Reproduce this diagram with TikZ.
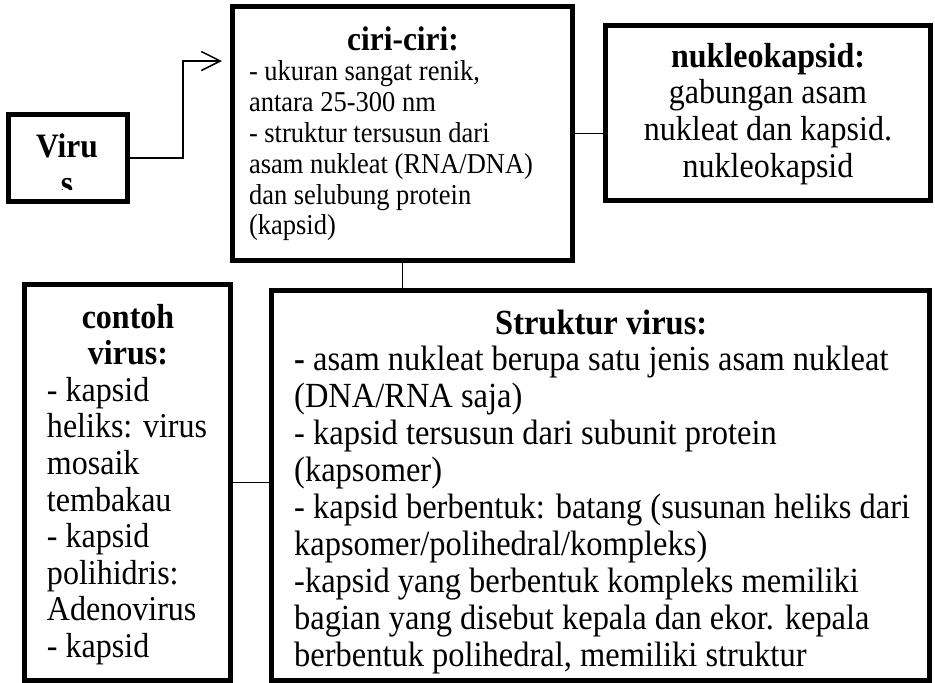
\documentclass[tikz,border=0pt]{standalone}
\usepackage{fontspec}
\setmainfont{Liberation Serif}[FakeStretch=0.92]
\usetikzlibrary{arrows.meta}
\begin{document}
\begin{tikzpicture}[x=1pt,y=-1pt,
  box/.style={draw, line width=5pt, rectangle, inner sep=0pt, fill=white},
  conn/.style={line width=1.5pt, draw=black},
  txt/.style={inner sep=0pt, anchor=base},
  txtw/.style={inner sep=0pt, anchor=base west}]
\fill[white] (0,0) rectangle (935,683);
\useasboundingbox (0,0) rectangle (935,683);

% boxes
\node[box, minimum width=119pt, minimum height=87pt] (virus) at (68,158) {};
\node[box, minimum width=340pt, minimum height=254pt] (ciri) at (402.5,133.5) {};
\node[box, minimum width=325pt, minimum height=175pt] (nukleo) at (768,113) {};
\node[box, minimum width=206pt, minimum height=396pt] (contoh) at (127.5,482.5) {};
\node[box, minimum width=658pt, minimum height=390pt] (struktur) at (600.5,485.5) {};

% texts
\begin{scope}
\clip (8,114) rectangle (128,189);
\node[txt] (virustext) at (67,157) {\begin{minipage}[t]{110pt}\centering\fontsize{34.2}{37}\selectfont\bfseries Viru\\ s\end{minipage}};
\end{scope}

\node[txt] (ciritext) at (403,50) {\begin{minipage}[t]{308pt}%
{\centering\fontsize{34.2}{36}\selectfont\bfseries ciri-ciri:\par}%
\raggedright\fontsize{28.8}{30.8}\selectfont
- ukuran sangat renik,\\
antara 25-300 nm\\
- struktur tersusun dari\\
asam nukleat (RNA/DNA)\\
dan selubung protein\\
(kapsid)\end{minipage}};

\node[txt] (nukleotext) at (768,67) {\begin{minipage}[t]{310pt}\centering\fontsize{34.8}{36.7}\selectfont
\textbf{nukleokapsid:}\\
gabungan asam\\
nukleat dan kapsid.\\
nukleokapsid\end{minipage}};

\node[txt] (contohtext) at (128,328) {\begin{minipage}[t]{162pt}\fontsize{34.8}{36.6}\selectfont
{\centering\bfseries contoh\\ virus:\par}%
\raggedright
- kapsid\\
heliks: virus\\
mosaik\\
tembakau\\
- kapsid\\
polihidris:\\
Adenovirus\\
- kapsid\end{minipage}};

\node[txtw] (strukturtext) at (294,334) {\begin{minipage}[t]{660pt}\fontsize{35.3}{36.9}\selectfont
\makebox[614pt]{\bfseries Struktur virus:}\par
\raggedright
\textbf{-} asam nukleat berupa satu jenis asam nukleat\\
(DNA/RNA saja)\\
- kapsid tersusun dari subunit protein\\
(kapsomer)\\
- kapsid berbentuk: batang (susunan heliks dari\\
kapsomer/polihedral/kompleks)\\
-kapsid yang berbentuk kompleks memiliki\\
bagian yang disebut kepala dan ekor. kepala\\
berbentuk polihedral, memiliki struktur\end{minipage}};

% connectors
\coordinate (tip) at (222,61);
\draw[conn, -{Straight Barb[length=19pt,width=19pt]}] (virus.east) -- ++(53,0) |- (tip);
\draw[conn] (ciri.east) -- (ciri.east -| nukleo.west);
\draw[conn] (ciri.south) -- (ciri.south |- struktur.north);
\draw[conn] (contoh.east) -- (contoh.east -| struktur.west);
\end{tikzpicture}
\end{document}
